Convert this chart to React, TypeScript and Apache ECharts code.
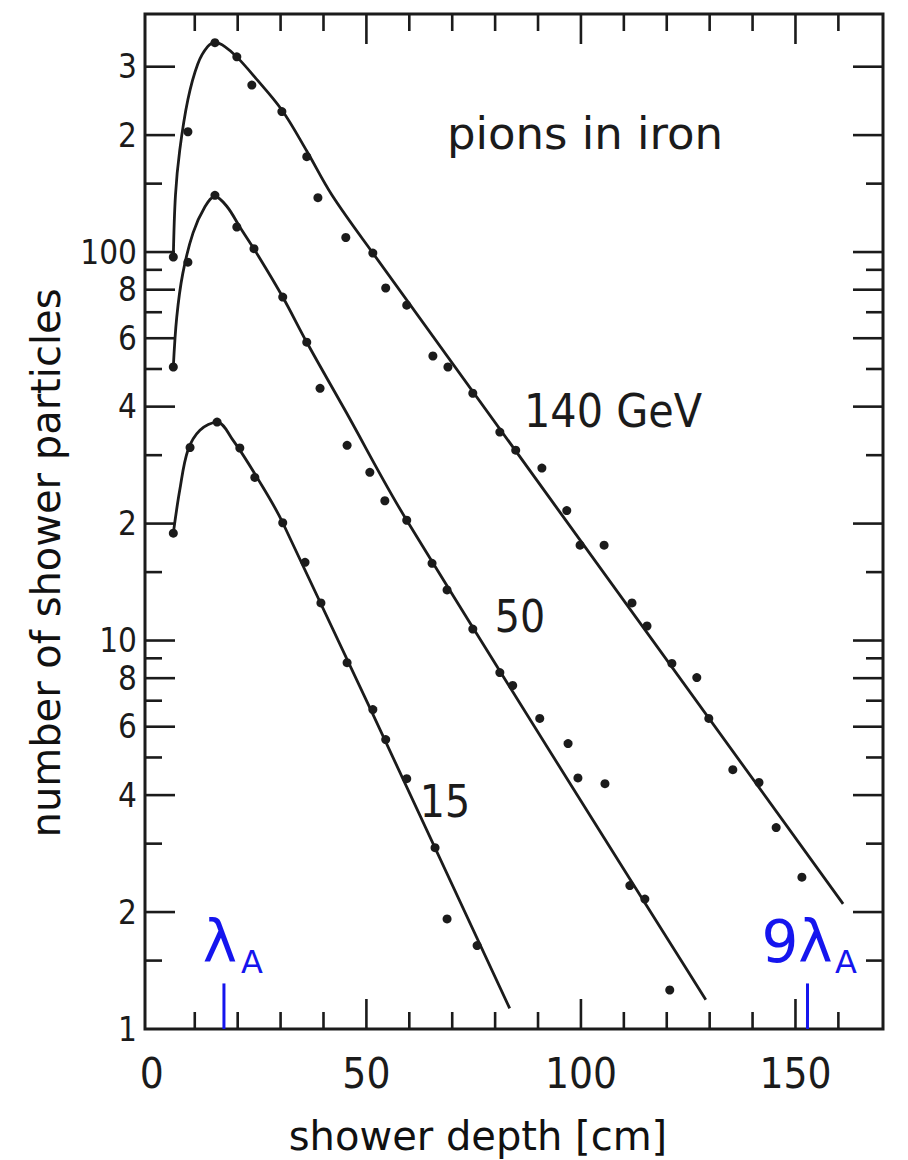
import React, { useEffect, useRef } from "react";
import * as echarts from "echarts";

// ---------- data ----------
const X_MIN = -1.6;
const X_MAX = 170.4;
const Y_MIN = 1;
const Y_MAX = 410;

// measured points, 140 GeV
const depth140 = [5.0, 8.4, 14.7, 19.8, 23.3, 30.3, 36.1, 38.7, 45.2, 51.5, 54.5, 59.4, 65.5, 69.0, 74.8, 81.1, 84.8, 90.9, 96.7, 99.8, 105.4, 111.9, 115.4, 121.2, 127.0, 129.8, 135.4, 141.5, 145.5, 151.5];
const count140 = [97.1, 204, 346, 318, 269, 230, 176, 138, 109, 99.4, 80.8, 73.0, 54.0, 50.6, 43.3, 34.4, 30.9, 27.8, 21.6, 17.6, 17.6, 12.5, 10.9, 8.73, 8.03, 6.30, 4.65, 4.31, 3.30, 2.46];
// measured points, 50 GeV
const depth50 = [5.0, 8.4, 14.7, 19.8, 23.8, 30.5, 36.1, 39.2, 45.5, 50.8, 54.3, 59.4, 65.3, 68.8, 74.8, 81.1, 84.1, 90.4, 97.0, 99.3, 105.6, 111.4, 114.9, 120.7];
const count50 = [50.6, 94.2, 140, 116, 102, 76.6, 58.6, 44.6, 31.8, 27.1, 22.9, 20.4, 15.8, 13.5, 10.7, 8.27, 7.66, 6.30, 5.43, 4.43, 4.28, 2.34, 2.16, 1.26];
// measured points, 15 GeV
const depth15 = [5.0, 8.9, 15.2, 20.5, 24.0, 30.5, 35.7, 39.4, 45.5, 51.5, 54.5, 59.4, 66.0, 68.8, 75.8];
const count15 = [18.9, 31.4, 36.5, 31.3, 26.3, 20.1, 15.9, 12.5, 8.77, 6.64, 5.56, 4.41, 2.93, 1.92, 1.64];

// fitted curves
const fitDepth140 = [5.0, 5.5, 6.5, 8.4, 10.7, 13.0, 14.9, 17.0, 19.8, 24.0, 30.3, 36.1, 42.0, 51.5, 161.1];
const fitCount140 = [97, 140, 183, 247, 305, 338, 346, 338, 318, 282, 232, 182, 140, 99.4, 2.10];
const fitDepth50 = [5.0, 5.8, 7.2, 9.6, 12.4, 14.7, 17.5, 20.5, 25, 30.5, 36.1, 45, 59.4, 129.1];
const fitCount50 = [50.6, 68, 88, 112, 131, 139, 131, 116, 97, 76.6, 58.6, 39.2, 20.4, 1.19];
const fitDepth15 = [5.0, 6.5, 8.4, 11.2, 15.2, 18.9, 24.5, 30.5, 83.4];
const fitCount15 = [18.9, 24.4, 30.9, 34.8, 36.5, 32.8, 26.3, 20.1, 1.13];

// interaction-length marks
const lambdaMarks = [16.8, 152.8];
const lambdaMarkTop = 1.31;

// ticks
const xMajorTicks = [50, 100, 150];
const xMinorTicks = [10, 20, 30, 40, 60, 70, 80, 90, 110, 120, 130, 140, 160];
const xLabelValues = [0, 50, 100, 150];
const xLabelTexts = ["0", "50", "100", "150"];
const yMajorTicks = [2, 4, 6, 8, 10, 20, 40, 60, 80, 100, 200, 300];
const yMinorTicks = [1.5, 3, 5, 7, 9, 15, 30, 50, 70, 90, 150];
const yLabelValues = [1, 2, 4, 6, 8, 10, 20, 40, 60, 80, 100, 200, 300];
const yLabelTexts = ["1", "2", "4", "6", "8", "10", "2", "4", "6", "8", "100", "2", "3"];

// ---------- styles ----------
const INK = "#1b1b1b";
const BLUE = "#1515ee";
const NARROW = "'Liberation Sans Narrow', 'DejaVu Sans Condensed', 'Liberation Sans', sans-serif";
const SANS = "'DejaVu Sans', 'Liberation Sans', sans-serif";
const MAJOR_LEN = 30;
const MINOR_LEN = 17;

function zip(a: number[], b: number[]) {
  return a.map((v, i) => [v, b[i]]);
}

function txt(text: string, x: number, y: number, size: number, family: string, color: string, align = "center", valign = "middle", rotation = 0) {
  return {
    type: "text",
    x,
    y,
    rotation,
    silent: true,
    style: {
      text,
      fill: color,
      fontSize: size,
      fontFamily: family,
      align,
      verticalAlign: valign,
      textAlign: align,
      textVerticalAlign: valign,
    },
  };
}

function buildOption(): any {
  const yTickData = [
    ...yMajorTicks.map((v) => [2, v]),
    ...yMinorTicks.map((v) => [1, v]),
  ];
  const xTickData = [
    ...xMajorTicks.map((v) => [v, 2]),
    ...xMinorTicks.map((v) => [v, 1]),
  ];
  const lineStyle = { color: INK, width: 2.8, opacity: 1 };
  const fitSeries = (name: string, xs: number[], ys: number[]) => ({
    name,
    type: "line",
    data: zip(xs, ys),
    showSymbol: false,
    symbol: "none",
    smooth: 0.35,
    lineStyle,
    z: 3,
  });
  const dotSeries = (name: string, xs: number[], ys: number[]) => ({
    name,
    type: "scatter",
    data: zip(xs, ys),
    symbol: "circle",
    symbolSize: 9,
    itemStyle: { color: INK, opacity: 1 },
    z: 4,
  });

  return {
    animation: false,
    backgroundColor: "#ffffff",
    grid: {
      left: 145,
      right: 25,
      top: 14,
      bottom: 131,
      show: true,
      borderColor: INK,
      borderWidth: 3,
      backgroundColor: "transparent",
    },
    xAxis: {
      type: "value",
      min: X_MIN,
      max: X_MAX,
      axisLine: { show: false },
      axisTick: { show: false },
      axisLabel: { show: false },
      splitLine: { show: false },
    },
    yAxis: {
      type: "log",
      logBase: 10,
      min: Y_MIN,
      max: Y_MAX,
      axisLine: { show: false },
      axisTick: { show: false },
      axisLabel: { show: false },
      splitLine: { show: false },
      minorTick: { show: false },
    },
    series: [
      fitSeries("fit 140 GeV", fitDepth140, fitCount140),
      fitSeries("fit 50 GeV", fitDepth50, fitCount50),
      fitSeries("fit 15 GeV", fitDepth15, fitCount15),
      dotSeries("140 GeV", depth140, count140),
      dotSeries("50 GeV", depth50, count50),
      dotSeries("15 GeV", depth15, count15),
      ...lambdaMarks.map((x) => ({
        type: "line",
        data: [
          [x, Y_MIN],
          [x, lambdaMarkTop],
        ],
        symbol: "none",
        lineStyle: { color: BLUE, width: 3 },
        z: 5,
      })),
      {
        type: "custom",
        name: "y ticks",
        data: yTickData,
        silent: true,
        z: 6,
        renderItem: (_p: any, api: any) => {
          const major = api.value(0) === 2;
          const v = api.value(1);
          const len = major ? MAJOR_LEN : MINOR_LEN;
          const l = api.coord([X_MIN, v]);
          const r = api.coord([X_MAX, v]);
          return {
            type: "group",
            children: [
              { type: "line", shape: { x1: l[0], y1: l[1], x2: l[0] + len, y2: l[1] }, style: { stroke: INK, lineWidth: 2.6 } },
              { type: "line", shape: { x1: r[0], y1: r[1], x2: r[0] - len, y2: r[1] }, style: { stroke: INK, lineWidth: 2.6 } },
            ],
          };
        },
      },
      {
        type: "custom",
        name: "x ticks",
        data: xTickData,
        silent: true,
        z: 6,
        renderItem: (_p: any, api: any) => {
          const v = api.value(0);
          const major = api.value(1) === 2;
          const len = major ? MAJOR_LEN : MINOR_LEN;
          const b = api.coord([v, Y_MIN]);
          const t = api.coord([v, Y_MAX]);
          return {
            type: "group",
            children: [
              { type: "line", shape: { x1: b[0], y1: b[1], x2: b[0], y2: b[1] - len }, style: { stroke: INK, lineWidth: 2.6 } },
              { type: "line", shape: { x1: t[0], y1: t[1], x2: t[0], y2: t[1] + len }, style: { stroke: INK, lineWidth: 2.6 } },
            ],
          };
        },
      },
      {
        type: "custom",
        name: "y labels",
        data: yLabelValues.map((v) => [0, v]),
        silent: true,
        z: 6,
        renderItem: (p: any, api: any) => {
          const v = api.value(1);
          const pt = api.coord([X_MIN, v]);
          return txt(yLabelTexts[p.dataIndex], pt[0] - 8, pt[1], 33, NARROW, INK, "right", "middle");
        },
      },
      {
        type: "custom",
        name: "x labels",
        data: xLabelValues.map((v) => [v, 1]),
        silent: true,
        z: 6,
        renderItem: (p: any, api: any) => {
          const v = api.value(0);
          const pt = api.coord([v, Y_MIN]);
          return txt(xLabelTexts[p.dataIndex], pt[0], pt[1] + 44, 42, NARROW, INK, "center", "middle");
        },
      },
    ],
    graphic: [
      txt("pions in iron", 585, 133, 45, SANS, INK),
      txt("140 GeV", 613, 411, 46, NARROW, INK),
      txt("50", 520, 616, 44, NARROW, INK),
      txt("15", 445, 801, 44, NARROW, INK),
      txt("λ", 220, 942, 58, SANS, BLUE),
      txt("A", 252, 962, 32, SANS, BLUE),
      txt("9λ", 797, 942, 58, SANS, BLUE),
      txt("A", 846, 962, 32, SANS, BLUE),
      txt("number of shower particles", 46, 563, 40, SANS, "#111", "center", "middle", Math.PI / 2),
      txt("shower depth [cm]", 478, 1136, 40, SANS, "#111"),
    ],
  };
}

export default function App() {
  const ref = useRef<HTMLDivElement>(null);
  useEffect(() => {
    const el = ref.current;
    if (!el) return;
    const chart = echarts.init(el, null, { renderer: "svg", width: 908, height: 1160 });
    chart.setOption(buildOption());
    return () => {
      chart.dispose();
    };
  }, []);
  return (
    <div
      ref={ref}
      style={{ position: "fixed", left: 0, top: 0, width: 908, height: 1160, background: "#ffffff" }}
    />
  );
}
